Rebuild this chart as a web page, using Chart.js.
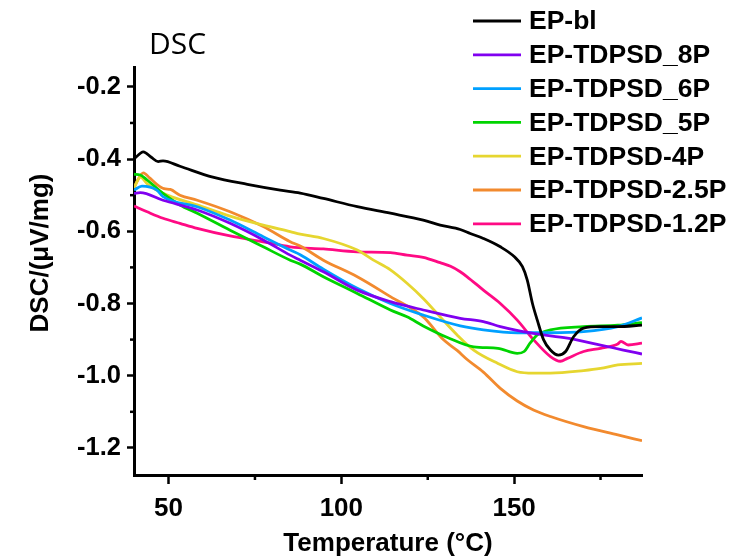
<!DOCTYPE html>
<html>
<head>
<meta charset="utf-8">
<script src="https://cdn.jsdelivr.net/npm/chart.js@4"></script>
<style>
  html, body { margin: 0; padding: 0; background: #fff; }
  #wrap { width: 743px; height: 559px; }
</style>
</head>
<body>
<div id="wrap"><canvas id="dscChart" width="743" height="559"></canvas></div>
<script>
// Series labels and colours
const seriesNames = ['EP-bl', 'EP-TDPSD_8P', 'EP-TDPSD_6P', 'EP-TDPSD_5P', 'EP-TDPSD-4P', 'EP-TDPSD-2.5P', 'EP-TDPSD-1.2P'];
const seriesColors = ['#000000', '#8000f0', '#00a0ff', '#00d400', '#e6d630', '#f28a2e', '#ff0a84'];

// Values (temperature in °C, DSC in µV/mg)
const tempBl = [40, 42.7, 45, 47, 48.4, 53.3, 62.8, 72.8, 82.3, 88.1, 94.8, 104.6, 114.2, 123.7, 128.6, 134.4, 137.3, 141.1, 146, 150, 152.4, 153.8, 155.3, 156.7, 158.5, 160.5, 162.8, 164.9, 167.2, 170.1, 175, 180, 187];
const dscBl = [-0.40, -0.38, -0.395, -0.407, -0.405, -0.42, -0.45, -0.47, -0.486, -0.494, -0.509, -0.532, -0.55, -0.569, -0.583, -0.595, -0.606, -0.62, -0.643, -0.67, -0.698, -0.735, -0.80, -0.846, -0.90, -0.929, -0.943, -0.933, -0.892, -0.868, -0.864, -0.864, -0.86];

const temp8P = [40, 41.8, 48.4, 58.3, 67.8, 77.4, 85.2, 88.1, 94.8, 104.6, 114.2, 123.7, 134.4, 141.1, 146, 155.6, 165.4, 175, 181.6, 187];
const dsc8P = [-0.495, -0.493, -0.514, -0.541, -0.578, -0.624, -0.666, -0.68, -0.712, -0.763, -0.795, -0.818, -0.841, -0.85, -0.864, -0.883, -0.896, -0.915, -0.929, -0.94];

const temp6P = [40, 42.3, 46.6, 48.4, 58.3, 67.8, 77.4, 85.2, 88.1, 94.8, 104.6, 114.2, 123.7, 134.4, 141.1, 150.9, 160.5, 170.1, 180, 187];
const dsc6P = [-0.486, -0.475, -0.486, -0.504, -0.532, -0.569, -0.615, -0.652, -0.665, -0.705, -0.758, -0.80, -0.832, -0.862, -0.873, -0.881, -0.881, -0.878, -0.864, -0.84];

const temp5P = [40, 41.8, 43.8, 48.4, 53.3, 58.3, 67.8, 77.4, 85.2, 88.1, 94.8, 104.6, 114.2, 119, 123.7, 130.7, 138.3, 145.3, 150.9, 152.9, 154.6, 156.7, 160.5, 170.1, 180, 187];
const dsc5P = [-0.442, -0.444, -0.458, -0.495, -0.527, -0.55, -0.597, -0.643, -0.68, -0.691, -0.726, -0.772, -0.818, -0.837, -0.862, -0.894, -0.92, -0.924, -0.938, -0.933, -0.91, -0.887, -0.873, -0.864, -0.86, -0.853];

const temp4P = [40, 41.8, 44, 48.4, 58.3, 67.8, 77.4, 85.2, 88.1, 94.8, 104.6, 109.3, 114.2, 119, 123.7, 128.6, 133.5, 138.3, 145.3, 150.9, 155.6, 160.5, 170.1, 175, 180, 187];
const dsc4P = [-0.48, -0.45, -0.47, -0.495, -0.527, -0.558, -0.583, -0.601, -0.608, -0.62, -0.652, -0.68, -0.707, -0.744, -0.786, -0.837, -0.887, -0.929, -0.966, -0.989, -0.993, -0.993, -0.986, -0.98, -0.97, -0.966];

const temp25P = [40, 41, 42.7, 44.5, 46.6, 48.7, 50.5, 53.3, 58.3, 67.8, 77.4, 85.2, 88.1, 94.8, 104.6, 114.2, 123.7, 129.5, 133.5, 136.4, 141.1, 146, 150.9, 155.6, 160.5, 170.1, 180, 187];
const dsc25P = [-0.48, -0.46, -0.438, -0.452, -0.47, -0.482, -0.484, -0.50, -0.514, -0.546, -0.587, -0.629, -0.641, -0.68, -0.726, -0.781, -0.837, -0.90, -0.93, -0.955, -0.99, -1.035, -1.07, -1.095, -1.113, -1.141, -1.164, -1.18];

const temp12P = [40, 43.8, 48.4, 53.3, 58.3, 67.8, 77.4, 85.2, 94.8, 104.6, 114.2, 119, 123.7, 128.6, 131.6, 134.4, 136.4, 141.1, 146, 150.9, 155.6, 160.5, 163.4, 165.4, 170.1, 175, 180, 180.9, 183, 187];
const dsc12P = [-0.53, -0.546, -0.564, -0.578, -0.592, -0.613, -0.629, -0.643, -0.649, -0.657, -0.659, -0.666, -0.672, -0.687, -0.697, -0.712, -0.726, -0.763, -0.80, -0.846, -0.90, -0.947, -0.96, -0.952, -0.933, -0.924, -0.912, -0.905, -0.915, -0.91];

const seriesTemps = [tempBl, temp8P, temp6P, temp5P, temp4P, temp25P, temp12P];
const seriesValues = [dscBl, dsc8P, dsc6P, dsc5P, dsc4P, dsc25P, dsc12P];

// Axis ranges and titles
const xMin = 40, xMax = 187, xStep = 25;
const yMin = -1.275, yMax = -0.145, yStep = 0.1;
const xTitle = 'Temperature (°C)';
const yTitle = 'DSC/(μV/mg)';
const panelLabel = 'DSC';

const FONT = 'Arial, "Liberation Sans", sans-serif';

const isMajorX = (v) => v % 50 === 0;
const isMajorY = (v) => Math.round(v * 10) % 2 === 0;

const datasets = seriesNames.map((name, i) => ({
  label: name,
  data: seriesTemps[i].map((t, j) => ({ x: t, y: seriesValues[i][j] })),
  borderColor: seriesColors[i],
  borderWidth: 2.8,
  pointRadius: 0,
  fill: false,
  cubicInterpolationMode: 'monotone'
}));

// Short minor ticks, panel label, y title and the legend in the top right
const decorations = {
  id: 'decorations',
  afterDraw(chart) {
    const ctx = chart.ctx;
    const area = chart.chartArea;
    const xs = chart.scales.x, ys = chart.scales.y;

    ctx.save();
    ctx.strokeStyle = '#000';
    ctx.lineWidth = 2.5;
    xs.ticks.forEach(t => {
      if (isMajorX(t.value)) return;
      const px = xs.getPixelForValue(t.value);
      ctx.beginPath(); ctx.moveTo(px, area.bottom); ctx.lineTo(px, area.bottom + 5); ctx.stroke();
    });
    ys.ticks.forEach(t => {
      if (isMajorY(t.value)) return;
      const py = ys.getPixelForValue(t.value);
      ctx.beginPath(); ctx.moveTo(area.left, py); ctx.lineTo(area.left - 4, py); ctx.stroke();
    });
    ctx.restore();

    ctx.save();
    ctx.fillStyle = '#000';
    ctx.font = '30px "Open Sans", sans-serif';
    ctx.textBaseline = 'alphabetic';
    ctx.textAlign = 'left';
    ctx.fillText(panelLabel, 149, 54);

    ctx.translate(41, 253);
    ctx.rotate(-Math.PI / 2);
    ctx.font = 'bold 26px ' + FONT;
    ctx.textAlign = 'center';
    ctx.textBaseline = 'middle';
    ctx.fillText(yTitle, 0, 0);
    ctx.restore();

    ctx.save();
    ctx.font = 'bold 26.5px ' + FONT;
    ctx.textBaseline = 'middle';
    ctx.textAlign = 'left';
    seriesNames.forEach((name, i) => {
      const y = 21 + i * 33.8;
      ctx.strokeStyle = seriesColors[i];
      ctx.lineWidth = 2.8;
      ctx.beginPath();
      ctx.moveTo(473, y);
      ctx.lineTo(521, y);
      ctx.stroke();
      ctx.fillStyle = '#000';
      ctx.fillText(name, 529, y + 1);
    });
    ctx.restore();
  }
};

new Chart(document.getElementById('dscChart'), {
  type: 'line',
  data: { datasets },
  options: {
    responsive: false,
    animation: false,
    layout: { padding: { left: 0, right: 101, top: 67, bottom: 0 } },
    plugins: { legend: { display: false }, tooltip: { enabled: false } },
    scales: {
      x: {
        type: 'linear',
        min: xMin,
        max: xMax,
        afterFit: (scale) => { scale.height = 84; },
        border: { display: true, color: '#000', width: 3 },
        grid: {
          drawOnChartArea: false, drawTicks: true, tickLength: 9, tickWidth: 2.5,
          tickColor: (c) => (c.tick && isMajorX(c.tick.value) ? '#000' : 'rgba(0,0,0,0)')
        },
        ticks: {
          stepSize: xStep,
          includeBounds: false,
          autoSkip: false,
          maxRotation: 0,
          padding: 9,
          color: '#000',
          font: { family: FONT, size: 26, weight: 'bold' },
          callback: (v) => (isMajorX(v) ? String(v) : '')
        },
        title: {
          display: true,
          text: xTitle,
          color: '#000',
          font: { family: FONT, size: 26, weight: 'bold' },
          padding: { top: 0, bottom: 0 }
        }
      },
      y: {
        type: 'linear',
        min: yMin,
        max: yMax,
        afterFit: (scale) => { scale.width = 134; },
        border: { display: true, color: '#000', width: 3 },
        grid: {
          drawOnChartArea: false, drawTicks: true, tickLength: 7, tickWidth: 2.5,
          tickColor: (c) => (c.tick && isMajorY(c.tick.value) ? '#000' : 'rgba(0,0,0,0)')
        },
        ticks: {
          stepSize: yStep,
          includeBounds: false,
          autoSkip: false,
          padding: 6,
          color: '#000',
          font: { family: FONT, size: 25.5, weight: 'bold' },
          callback: (v) => (isMajorY(v) ? v.toFixed(1) : '')
        }
      }
    }
  },
  plugins: [decorations]
});
</script>
</body>
</html>
